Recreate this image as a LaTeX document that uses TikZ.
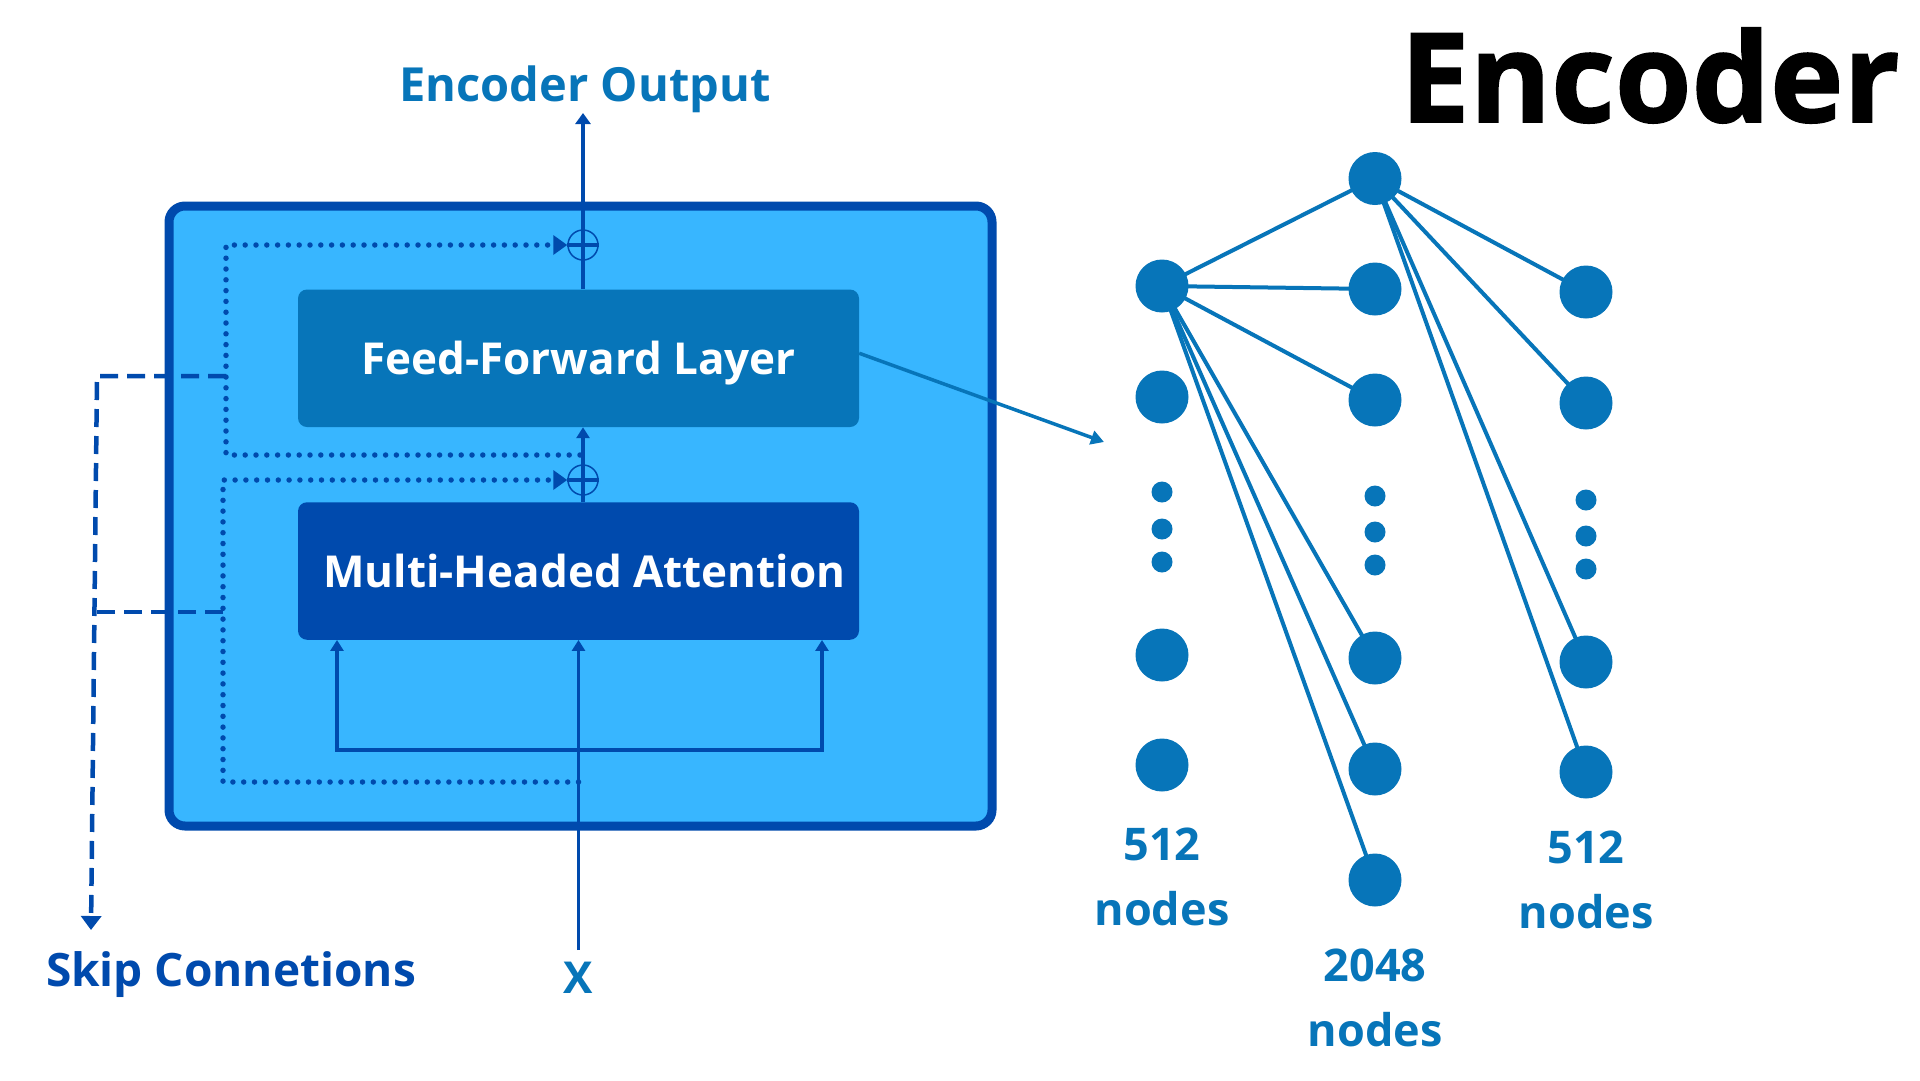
\documentclass[tikz,border=0pt]{standalone}
\usepackage{fontspec}
\setmainfont{Open Sans}
\newfontfamily\titlefont[BoldFeatures={FakeBold=1.3}]{Open Sans}
\usetikzlibrary{arrows.meta}
\definecolor{lightfill}{HTML}{38B6FF}
\definecolor{darkblue}{HTML}{004AAD}
\definecolor{midblue}{HTML}{0775B9}
\newcommand{\fsz}[2]{\fontsize{#1}{#2}\selectfont}
\begin{document}
\begin{tikzpicture}[x=1pt,y=-1pt,
  container/.style={draw=darkblue, line width=9pt, fill=lightfill, rounded corners=16pt, minimum width=823pt, minimum height=620pt, inner sep=0pt},
  layerbox/.style={rounded corners=9pt, minimum width=561pt, minimum height=137.5pt, inner sep=0pt, text=white, font=\bfseries\fsz{44}{50}, text height=32pt, text depth=0pt},
  addnode/.style={circle, draw=darkblue, line width=1.5pt, minimum size=30pt, inner sep=0pt},
  mainline/.style={darkblue, line width=4pt},
  inline/.style={darkblue, line width=3.2pt, -{Triangle[width=13pt,length=11pt]}},
  resid/.style={darkblue, line width=5.5pt, line cap=round, dash pattern=on 0pt off 10.8pt, -{Triangle[width=19pt,length=14pt]}},
  skipline/.style={darkblue, line width=4.5pt, dash pattern=on 18pt off 9pt},
  neuron/.style={circle, fill=midblue, minimum size=53pt, inner sep=0pt},
  dotn/.style={circle, fill=midblue, minimum size=21pt, inner sep=0pt},
  edgeline/.style={midblue, line width=4pt},
  countlabel/.style={text=midblue, font=\bfseries\fsz{45}{65}, align=center, inner sep=0pt}
]
\fill[white] (0,0) rectangle (1920,1080);
\useasboundingbox (0,0) rectangle (1920,1080);

% container
\node[container] (enc) at (580.5,516) {};

% layers
\node[layerbox, fill=midblue] (ff) at (578.5,358.25) {Feed-Forward Layer};
\node[layerbox, fill=darkblue] (mha) at (578.5,571) {\hspace*{12pt}Multi-Headed Attention};

% add circles
\node[addnode] (add1) at (583,245) {};
\node[addnode] (add2) at (583,480) {};

% main flow
\coordinate (outtip) at (583,113);
\draw[mainline, -{Triangle[width=15pt,length=11pt]}] ([xshift=4.5pt]ff.north) -- (outtip);
\draw[mainline, -{Triangle[width=13pt,length=11pt]}] ([xshift=4.5pt]mha.north) -- ([xshift=4.5pt]ff.south);
\draw[darkblue, line width=4.5pt] (add1.west) -- (add1.east);
\draw[darkblue, line width=4.5pt] (add2.west) -- (add2.east);

% residual (dotted)
\coordinate (r1) at (580,455);
\coordinate (r2) at (578.5,782);
\draw[resid] (r1) -- (226,455) -- (226,245) -- (add1.west);
\draw[resid] (r2) -- (223,782) -- (223,480) -- (add2.west);

% inputs to attention
\coordinate (xin) at (578.5,950);
\coordinate (bm) at (578.5,750);
\coordinate (bl) at (337,750);
\coordinate (br) at (822,750);
\draw[inline] (xin) -- (mha.south);
\draw[inline] (bm) -- (bl) -- (bl |- mha.south);
\draw[inline] (bm) -- (br) -- (br |- mha.south);

% skip connections (dashed)
\coordinate (s1) at (226,376);
\coordinate (s2) at (223,612);
\coordinate (sk) at (91,930);
\draw[skipline, -{Triangle[width=20pt,length=14pt]}] (s1) -- (97,376) -- (sk);
\draw[skipline] (s2) -- (94.4,612);

% labels
\node[anchor=base, text=midblue, font=\bfseries\fsz{47}{50}] (outlabel) at (585,101) {Encoder Output};
\node[anchor=base, text=darkblue, font=\bfseries\fsz{46}{50}] (skiplabel) at (231,986) {Skip Connetions};
\node[anchor=base, text=midblue, font=\bfseries\fsz{44}{50}] (xlabel) at (578,993) {X};
\node[anchor=base, font=\titlefont\bfseries\fsz{124}{130}] (title) at (1650,122) {Encoder};

% FF to network
\coordinate (nettip) at (1104,442);
\draw[midblue, line width=3.5pt, -{Triangle[width=14pt,length=13pt]}] ([yshift=5pt]ff.east) -- (nettip);

% network nodes positions
\coordinate (a1) at (1162,286);
\coordinate (a2) at (1162,397);
\coordinate (a3) at (1162,655);
\coordinate (a4) at (1162,765);
\coordinate (t0) at (1375,178.5);
\coordinate (b1) at (1375,289);
\coordinate (b2) at (1375,400);
\coordinate (b3) at (1375,658);
\coordinate (b4) at (1375,769);
\coordinate (b5) at (1375,880);
\coordinate (c1) at (1586,292);
\coordinate (c2) at (1586,403);
\coordinate (c3) at (1586,662);
\coordinate (c4) at (1586,772);

% edges
\draw[edgeline] (t0) -- (a1);
\draw[edgeline] (t0) -- (c1);
\draw[edgeline] (t0) -- (c2);
\draw[edgeline] (t0) -- (c3);
\draw[edgeline] (t0) -- (c4);
\draw[edgeline] (a1) -- (b1);
\draw[edgeline] (a1) -- (b2);
\draw[edgeline] (a1) -- (b3);
\draw[edgeline] (a1) -- (b4);
\draw[edgeline] (a1) -- (b5);

% neurons
\foreach \n in {a1,a2,a3,a4,t0,b1,b2,b3,b4,b5,c1,c2,c3,c4}{
  \node[neuron] (n\n) at (\n) {};
}
\node[dotn] (da1) at (1162,492) {};
\node[dotn] (da2) at (1162,529) {};
\node[dotn] (da3) at (1162,562) {};
\node[dotn] (db1) at (1375,496) {};
\node[dotn] (db2) at (1375,532) {};
\node[dotn] (db3) at (1375,565) {};
\node[dotn] (dc1) at (1586,500) {};
\node[dotn] (dc2) at (1586,536) {};
\node[dotn] (dc3) at (1586,569) {};

% counts
\node[countlabel] (cnt1) at (1162,876.5) {512\\nodes};
\node[countlabel] (cnt2) at (1375,998) {2048\\nodes};
\node[countlabel] (cnt3) at (1586,880) {512\\nodes};
\end{tikzpicture}
\end{document}
